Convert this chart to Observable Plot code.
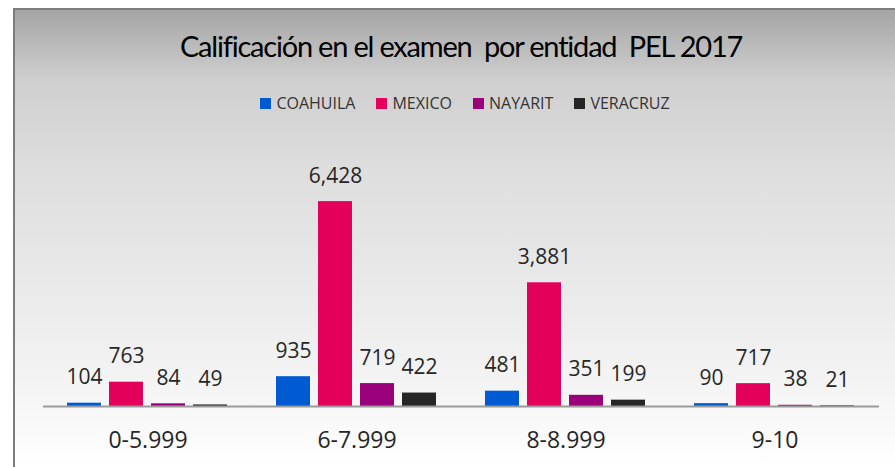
<!DOCTYPE html>
<html>
<head>
<meta charset="utf-8">
<script src="https://cdn.jsdelivr.net/npm/d3@7"></script>
<script src="https://cdn.jsdelivr.net/npm/@observablehq/plot@0.6"></script>
<style>
  html, body { margin: 0; padding: 0; background: #fff; overflow: hidden; }
  #wrap { position: relative; width: 895px; height: 467px; overflow: hidden; }
  #frame { position: absolute; left: 13px; top: 8px; width: 920px; height: 480px;
    border-left: 2px solid #7c7c7c; border-top: 2px solid #7c7c7c;
    background: linear-gradient(#a5a5a5 0px, #cfcfcf 70px, #dedede 160px, #ececec 300px, #f7f7f7 400px, #ffffff 459px); }
  #title { position: absolute; left: 0; width: 922px; top: 28px; text-align: center;
    font-family: Lato, sans-serif; font-size: 29px; letter-spacing: -1.2px; color: #000; white-space: pre; }
  #legend { position: absolute; left: 0; width: 930px; top: 92px; display: flex; justify-content: center; gap: 21px;
    font-family: "Open Sans", sans-serif; font-size: 16px; color: #333; }
  #legend span.item { display: flex; align-items: center; gap: 5px; }
  #legend span.sw { width: 11px; height: 11px; display: inline-block; }
  #chart { position: absolute; left: 0; top: 0; }
  #chart svg { display: block; }
</style>
</head>
<body>
<div id="wrap">
<div id="frame"></div>
<div id="title">Calificación en el examen  por entidad  PEL 2017</div>
<div id="legend"></div>
<div id="chart"></div>
</div>
<script>
const groups = ["0-5.999", "6-7.999", "8-8.999", "9-10"];
const states = ["COAHUILA", "MEXICO", "NAYARIT", "VERACRUZ"];
const coahuila = [104, 935, 481, 90];
const mexico = [763, 6428, 3881, 717];
const nayarit = [84, 719, 351, 38];
const veracruz = [49, 422, 199, 21];
const colors = ["#005bd3", "#e2005a", "#9a0079", "#262626"];

const series = [coahuila, mexico, nayarit, veracruz];
const data = [];
groups.forEach((g, i) => states.forEach((s, j) => data.push({group: g, state: s, value: series[j][i]})));

const legend = document.getElementById("legend");
states.forEach((s, j) => {
  const it = document.createElement("span");
  it.className = "item";
  const sw = document.createElement("span");
  sw.className = "sw";
  sw.style.background = colors[j];
  it.appendChild(sw);
  it.appendChild(document.createTextNode(s));
  legend.appendChild(it);
});

const fmt = d3.format(",");
const chart = Plot.plot({
  width: 895,
  height: 467,
  marginLeft: 43,
  marginRight: 16,
  marginTop: 151,
  marginBottom: 61,
  style: {background: "transparent", fontFamily: "'Open Sans', sans-serif", fontSize: "23px", color: "#262626"},
  fx: {domain: groups, padding: 0, label: null, axis: "bottom", tickSize: 0, tickPadding: 25},
  x: {domain: states, paddingInner: 0.19, paddingOuter: 0.583, axis: null},
  y: {domain: [0, 8000], axis: null},
  color: {domain: states, range: colors},
  marks: [
    Plot.barY(data, {fx: "group", x: "state", y: "value", fill: "state"}),
    Plot.ruleY([0], {stroke: "#9a9a9a", strokeWidth: 2}),
    Plot.text(data, {fx: "group", x: "state", y: "value", text: d => fmt(d.value), dy: -19, lineAnchor: "bottom", fontSize: 21, fill: "#262626"})
  ]
});
document.getElementById("chart").appendChild(chart);
</script>
</body>
</html>
